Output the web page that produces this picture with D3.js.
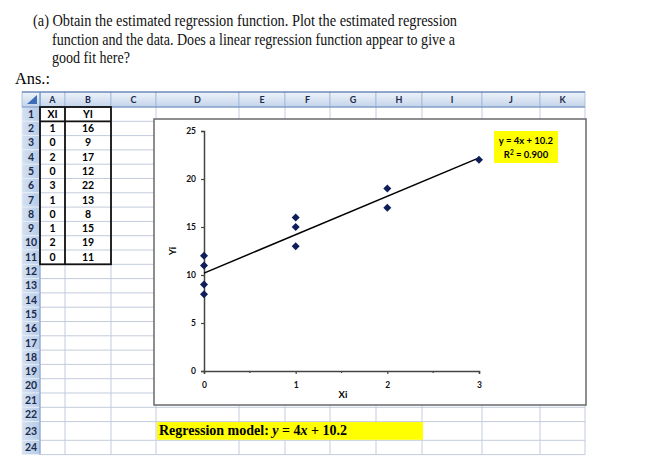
<!DOCTYPE html>
<html>
<head>
<meta charset="utf-8">
<script src="https://cdn.jsdelivr.net/npm/d3@7"></script>
<style>
  body { margin: 0; background: #fff; }
  svg { display: block; }
</style>
</head>
<body>
<svg id="page" width="647" height="475"></svg>
<script>
// данные из таблицы Excel
const xi = [1, 0, 2, 0, 3, 1, 0, 1, 2, 0];
const yi = [16, 9, 17, 12, 22, 13, 8, 15, 19, 11];
const colNames = ["A", "B", "C", "D", "E", "F", "G", "H", "I", "J", "K"];
const headNames = ["XI", "YI"];
const xTicks = [0, 1, 2, 3];
const yTicks = [0, 5, 10, 15, 20, 25];
const slope = 4;
const intercept = 10.2;
const r2 = 0.9;

const titleLines = [
  "(a) Obtain the estimated regression function. Plot the estimated regression",
  "function and the data. Does a linear regression function appear to give a",
  "good fit here?"
];

let svg = d3.select("#page");
const xlFont = "Lato, 'Open Sans', sans-serif";

// текст задания
let titleX = [33, 52, 52];
let titleY = [26, 45, 63];
let titleW = [424, 403, 78];
titleLines.forEach(function (t, i) {
  svg.append("text")
    .attr("x", titleX[i]).attr("y", titleY[i])
    .attr("textLength", titleW[i]).attr("lengthAdjust", "spacingAndGlyphs")
    .style("font-family", "'Liberation Serif', serif")
    .style("font-size", "17px")
    .style("fill", "#111")
    .text(t);
});
svg.append("text")
  .attr("x", 15).attr("y", 84)
  .attr("textLength", 35).attr("lengthAdjust", "spacingAndGlyphs")
  .style("font-family", "'Liberation Serif', serif")
  .style("font-size", "17px")
  .text("Ans.:");

// сетка листа
let colEdges = [22, 40, 65, 111, 156, 239, 285, 330, 376, 422, 482, 540, 585];
let headTop = 92, headBottom = 107;
let rowEdges = [headBottom];
for (let i = 1; i <= 24; i++) {
  let h = i === 23 ? 18.7 : 14.3;
  rowEdges.push(rowEdges[i - 1] + h);
}
let sheetRight = colEdges[colEdges.length - 1];
let sheetBottom = rowEdges[24];

let defs = svg.append("defs");
let gCol = defs.append("linearGradient").attr("id", "colHead")
  .attr("x1", 0).attr("y1", 0).attr("x2", 0).attr("y2", 1);
gCol.append("stop").attr("offset", "0%").attr("stop-color", "#eef3fa");
gCol.append("stop").attr("offset", "100%").attr("stop-color", "#c4d4ea");
let gRow = defs.append("linearGradient").attr("id", "rowHead")
  .attr("x1", 0).attr("y1", 0).attr("x2", 1).attr("y2", 0);
gRow.append("stop").attr("offset", "0%").attr("stop-color", "#d4e1f2");
gRow.append("stop").attr("offset", "100%").attr("stop-color", "#b6cbe8");

let grid = svg.append("g");
// горизонтальные линии
grid.selectAll(".hl").data(rowEdges.slice(1)).enter().append("line")
  .attr("x1", colEdges[1]).attr("x2", sheetRight)
  .attr("y1", (d) => d).attr("y2", (d) => d)
  .style("stroke", "#c3cbdb").style("stroke-width", 1);
// вертикальные линии
grid.selectAll(".vl").data(colEdges.slice(2)).enter().append("line")
  .attr("x1", (d) => d).attr("x2", (d) => d)
  .attr("y1", headBottom).attr("y2", sheetBottom)
  .style("stroke", "#c3cbdb").style("stroke-width", 1);

// заголовки столбцов
grid.selectAll(".ch").data(colNames).enter().append("rect")
  .attr("x", (d, i) => colEdges[i + 1]).attr("y", headTop)
  .attr("width", (d, i) => colEdges[i + 2] - colEdges[i + 1])
  .attr("height", headBottom - headTop)
  .style("fill", "url(#colHead)").style("stroke", "#9eb6d8").style("stroke-width", 0.8);
grid.selectAll(".ct").data(colNames).enter().append("text")
  .attr("x", (d, i) => (colEdges[i + 1] + colEdges[i + 2]) / 2)
  .attr("y", headTop + 11)
  .attr("text-anchor", "middle")
  .style("font-family", xlFont).style("font-size", "9px").style("font-weight", "bold")
  .style("fill", "#1b2a4a")
  .text((d) => d);

// угловая ячейка
grid.append("rect").attr("x", colEdges[0]).attr("y", headTop)
  .attr("width", colEdges[1] - colEdges[0]).attr("height", headBottom - headTop)
  .style("fill", "url(#colHead)").style("stroke", "#9eb6d8").style("stroke-width", 0.8);
grid.append("path")
  .attr("d", `M${colEdges[1] - 3},${headTop + 3}L${colEdges[1] - 3},${headBottom - 3}L${colEdges[1] - 13},${headBottom - 3}Z`)
  .style("fill", "#3f6db5");

// номера строк
let rowNums = d3.range(1, 25);
grid.selectAll(".rh").data(rowNums).enter().append("rect")
  .attr("x", colEdges[0]).attr("y", (d) => rowEdges[d - 1])
  .attr("width", colEdges[1] - colEdges[0])
  .attr("height", (d) => rowEdges[d] - rowEdges[d - 1])
  .style("fill", "url(#rowHead)").style("stroke", "#e8eef7").style("stroke-width", 0.8);
grid.selectAll(".rt").data(rowNums).enter().append("text")
  .attr("x", (colEdges[0] + colEdges[1]) / 2)
  .attr("y", (d) => (rowEdges[d - 1] + rowEdges[d]) / 2 + 3.6)
  .attr("text-anchor", "middle")
  .style("font-family", xlFont).style("font-size", "10.5px").style("font-weight", "bold")
  .style("fill", "#1b2a4a")
  .text((d) => d);
grid.append("line").attr("x1", colEdges[0]).attr("x2", sheetRight)
  .attr("y1", headTop).attr("y2", headTop)
  .style("stroke", "#4a6fa8").style("stroke-width", 1.2);
grid.append("line").attr("x1", colEdges[0]).attr("x2", sheetRight)
  .attr("y1", headBottom).attr("y2", headBottom)
  .style("stroke", "#6f8fc0").style("stroke-width", 1);
grid.append("line").attr("x1", colEdges[1]).attr("x2", colEdges[1])
  .attr("y1", headTop).attr("y2", sheetBottom)
  .style("stroke", "#6f8fc0").style("stroke-width", 1);

// значения таблицы
let cellY = (r) => (rowEdges[r - 1] + rowEdges[r]) / 2 + 3.6;
let cells = svg.append("g")
  .style("font-family", xlFont).style("font-size", "10.5px").style("font-weight", "bold")
  .attr("text-anchor", "middle");
cells.selectAll(".hd").data(headNames).enter().append("text")
  .attr("x", (d, i) => (colEdges[i + 1] + colEdges[i + 2]) / 2)
  .attr("y", cellY(1)).text((d) => d);
cells.selectAll(".xv").data(xi).enter().append("text")
  .attr("x", (colEdges[1] + colEdges[2]) / 2)
  .attr("y", (d, i) => cellY(i + 2)).text((d) => d);
cells.selectAll(".yv").data(yi).enter().append("text")
  .attr("x", (colEdges[2] + colEdges[3]) / 2)
  .attr("y", (d, i) => cellY(i + 2)).text((d) => d);

// жирные границы таблицы
let tb = svg.append("g").style("stroke", "#111").style("stroke-width", 1.8).style("fill", "none");
tb.append("rect").attr("x", colEdges[1]).attr("y", rowEdges[0])
  .attr("width", colEdges[3] - colEdges[1]).attr("height", rowEdges[11] - rowEdges[0]);
tb.append("line").attr("x1", colEdges[2]).attr("x2", colEdges[2])
  .attr("y1", rowEdges[0]).attr("y2", rowEdges[11]);
tb.append("line").attr("x1", colEdges[1]).attr("x2", colEdges[3])
  .attr("y1", rowEdges[1]).attr("y2", rowEdges[1]);

// область диаграммы
svg.append("rect").attr("x", 154).attr("y", 119).attr("width", 432).attr("height", 286)
  .style("fill", "#fff").style("stroke", "#6a6a6a").style("stroke-width", 1.5);

let scaleX = d3.scaleLinear().domain([0, 3]).range([204, 479]);
let scaleY = d3.scaleLinear().domain([0, 25]).range([371, 131]);

let axisX = d3.axisBottom(scaleX).tickValues(xTicks).tickSize(3).tickPadding(8).tickFormat(d3.format("d"));
let axisY = d3.axisLeft(scaleY).tickValues(yTicks).tickSize(3).tickPadding(5);

let gx = svg.append("g").attr("transform", `translate(0, ${scaleY(0)})`).call(axisX);
let gy = svg.append("g").attr("transform", `translate(${scaleX(0)}, 0)`).call(axisY);
[gx, gy].forEach(function (g) {
  g.select(".domain").style("stroke", "#444").style("stroke-width", 1.5);
  g.selectAll(".tick line").style("stroke", "#444").style("stroke-width", 1.2);
  g.selectAll(".tick text")
    .style("font-family", xlFont).style("font-size", "8.5px").style("font-weight", "bold")
    .style("fill", "#111");
});
// промежуточные деления оси OX
svg.selectAll(".minor").data([0.5, 1.5, 2.5]).enter().append("line")
  .attr("x1", (d) => scaleX(d)).attr("x2", (d) => scaleX(d))
  .attr("y1", scaleY(0)).attr("y2", scaleY(0) + 2)
  .style("stroke", "#444").style("stroke-width", 1.2);

svg.append("text").attr("x", 343).attr("y", 398).attr("text-anchor", "middle")
  .style("font-family", xlFont).style("font-size", "9.5px").style("font-weight", "bold")
  .text("Xi");
svg.append("text").attr("transform", "translate(176, 251) rotate(-90)").attr("text-anchor", "middle")
  .style("font-family", xlFont).style("font-size", "9.5px").style("font-weight", "bold")
  .text("Yi");

// линия тренда
svg.append("line")
  .attr("x1", scaleX(0)).attr("y1", scaleY(intercept))
  .attr("x2", scaleX(3)).attr("y2", scaleY(intercept + slope * 3))
  .style("stroke", "#000").style("stroke-width", 1.5);

// точки
let points = xi.map((d, i) => ({ x: d, y: yi[i] }));
svg.selectAll(".dot").data(points).enter().append("path")
  .attr("d", d3.symbol().type(d3.symbolSquare).size(32))
  .attr("transform", (d) => `translate(${scaleX(d.x)}, ${scaleY(d.y)}) rotate(45)`)
  .style("fill", "#0f1d5a");

// подпись уравнения тренда
svg.append("rect").attr("x", 494).attr("y", 131).attr("width", 64).attr("height", 32)
  .style("fill", "#ffff00");
let eq = svg.append("text").attr("text-anchor", "middle")
  .style("font-family", xlFont).style("font-size", "9.5px").style("font-weight", "bold");
eq.append("tspan").attr("x", 526).attr("y", 144).text(`y = ${slope}x + ${intercept}`);
let r2Line = eq.append("tspan").attr("x", 526).attr("y", 157.5);
r2Line.append("tspan").text("R");
r2Line.append("tspan").attr("dy", -3).style("font-size", "6.5px").text("2");
r2Line.append("tspan").attr("dy", 3).text(` = ${r2.toFixed(3)}`);

// модель регрессии
svg.append("rect").attr("x", colEdges[4] + 1).attr("y", rowEdges[22] + 0.5)
  .attr("width", colEdges[9] - colEdges[4]).attr("height", rowEdges[23] - rowEdges[22] - 1)
  .style("fill", "#ffff00");
let model = svg.append("text").attr("x", 159).attr("y", 435)
  .attr("textLength", 188).attr("lengthAdjust", "spacingAndGlyphs")
  .style("font-family", "'Liberation Serif', serif").style("font-size", "14px").style("font-weight", "bold");
model.append("tspan").text("Regression model: ");
model.append("tspan").style("font-style", "italic").text("y");
model.append("tspan").text(" = " + slope);
model.append("tspan").style("font-style", "italic").text("x");
model.append("tspan").text(" + " + intercept);
</script>
</body>
</html>
